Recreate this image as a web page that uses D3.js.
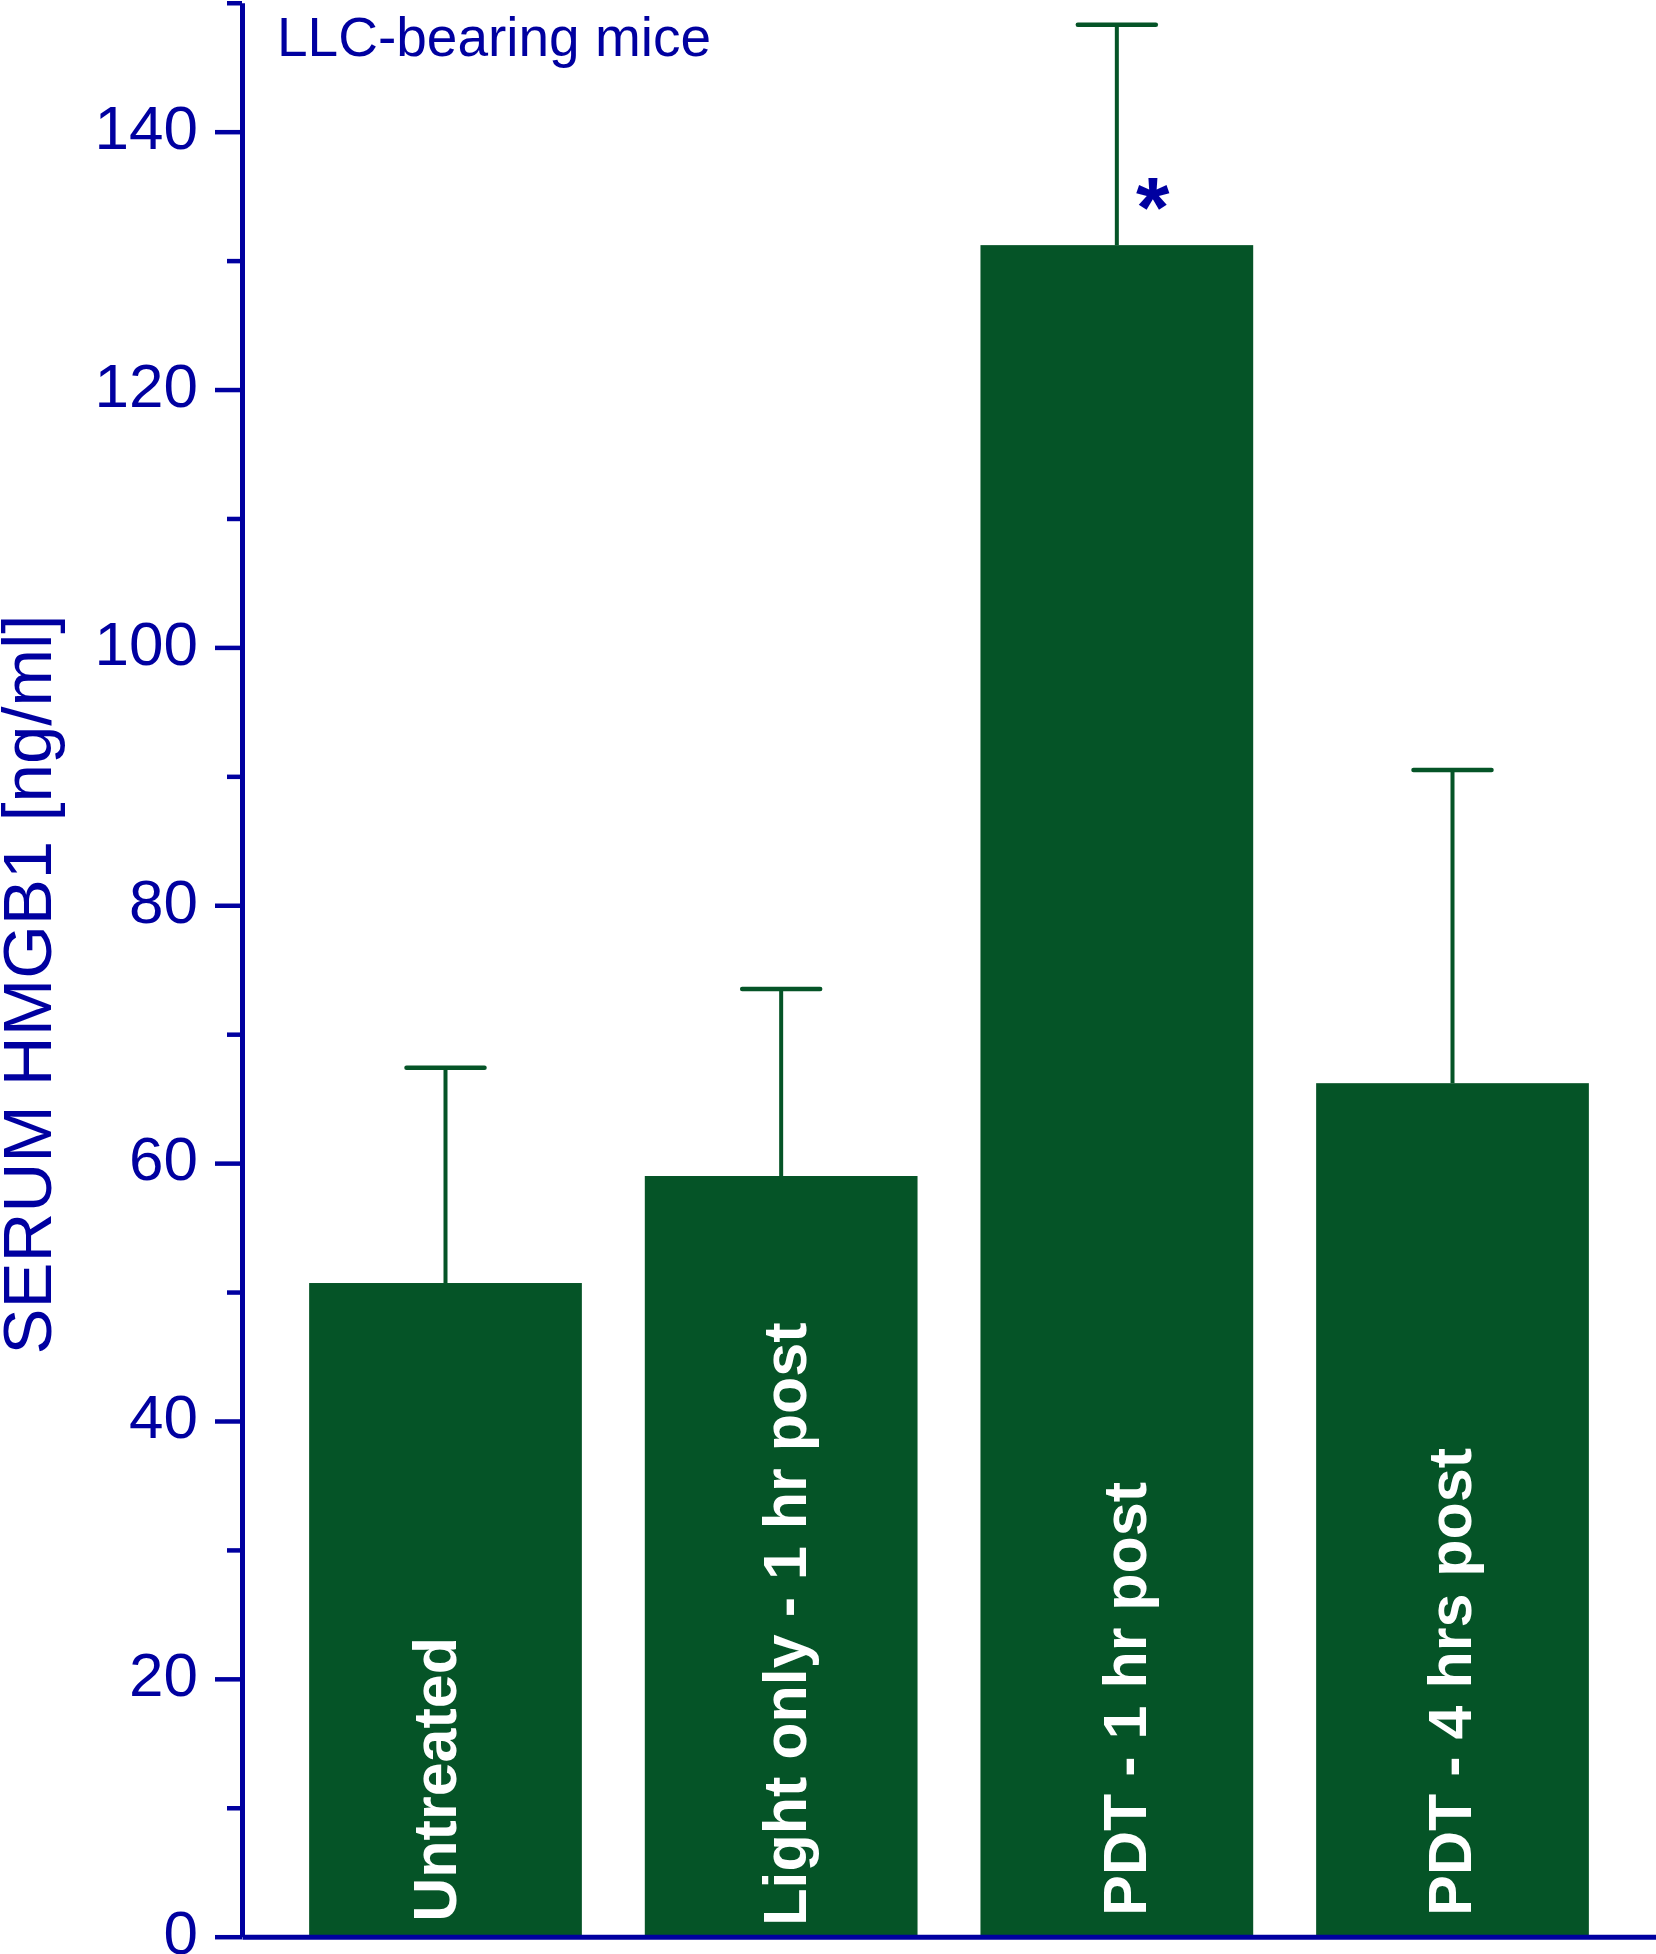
<!DOCTYPE html>
<html>
<head>
<meta charset="utf-8">
<script src="https://cdn.jsdelivr.net/npm/d3@7"></script>
<style>
  html, body { margin: 0; padding: 0; background: #ffffff; }
  svg { display: block; }
  text { font-family: "Liberation Sans", Arial, Helvetica, sans-serif; }
</style>
</head>
<body>
<svg id="chart" width="1656" height="1954"></svg>
<script>
// ---- data ----
const categories = ["Untreated", "Light only - 1 hr post", "PDT - 1 hr post", "PDT - 4 hrs post"];
const means = [50.7, 59.0, 131.2, 66.2];
const errorTops = [67.4, 73.5, 148.3, 90.5];
const significant = [false, false, true, false];
const majorTicks = [0, 20, 40, 60, 80, 100, 120, 140];
const minorTicks = [10, 30, 50, 70, 90, 110, 130, 150];
const titleText = "LLC-bearing mice";
const yLabel = "SERUM HMGB1 [ng/ml]";

// ---- layout (not data) ----
const labelDx = [11, 25, 29.5, 18.5];      // baseline shift from bar centre
const labelLift = [15, 11, 21, 21];        // start of label above the x axis
const blue = "#0000a0";
const green = "#055427";

const svg = d3.select("#chart");
const x0 = 242, x1 = 1656, yBottom = 1936.7, yTop = 2.75;

const y = d3.scaleLinear().domain([0, 150]).range([yBottom, yTop]);
const x = d3.scaleBand().domain(categories).range([x0, x1])
  .paddingInner(0.1875).paddingOuter(0.2);

// bars
svg.append("g").selectAll("rect").data(categories).join("rect")
  .attr("x", d => x(d))
  .attr("width", x.bandwidth())
  .attr("y", (d, i) => y(means[i]))
  .attr("height", (d, i) => y(0) - y(means[i]))
  .attr("fill", green);

// error bars (upper only)
const eb = svg.append("g").attr("stroke", green).attr("fill", "none");
categories.forEach((c, i) => {
  const cx = x(c) + x.bandwidth() / 2;
  eb.append("line").attr("x1", cx).attr("x2", cx)
    .attr("y1", y(means[i])).attr("y2", y(errorTops[i]))
    .attr("stroke-width", 4);
  eb.append("line").attr("x1", cx - 39).attr("x2", cx + 39)
    .attr("y1", y(errorTops[i])).attr("y2", y(errorTops[i]))
    .attr("stroke-width", 4.5).attr("stroke-linecap", "round");
});

// significance marks
categories.forEach((c, i) => {
  if (!significant[i]) return;
  const cx = x(c) + x.bandwidth() / 2;
  svg.append("text")
    .attr("x", cx + 36)
    .attr("y", y(means[i]) - 8)
    .attr("text-anchor", "middle")
    .attr("font-size", 86)
    .attr("font-weight", "bold")
    .attr("fill", blue)
    .text("*");
});

// bar labels (white, rotated, inside bars)
categories.forEach((c, i) => {
  const cx = x(c) + x.bandwidth() / 2;
  svg.append("text")
    .attr("transform", `translate(${cx + labelDx[i]},${yBottom - labelLift[i]}) rotate(-90)`)
    .attr("text-anchor", "start")
    .attr("font-size", 61)
    .attr("font-weight", "bold")
    .attr("fill", "#ffffff")
    .text(c);
});

// y axis: minor ticks
const yMinor = svg.append("g").attr("transform", `translate(${x0},0)`)
  .call(d3.axisLeft(y).tickValues(minorTicks).tickSize(15).tickSizeOuter(0).tickFormat(""));
yMinor.select(".domain").remove();
yMinor.selectAll(".tick line").attr("stroke", blue).attr("stroke-width", 4.5);

// y axis: major ticks + labels
const yMajor = svg.append("g").attr("transform", `translate(${x0},0)`)
  .call(d3.axisLeft(y).tickValues(majorTicks).tickSize(27).tickSizeOuter(0).tickPadding(17));
yMajor.select(".domain").attr("stroke", blue).attr("stroke-width", 5);
yMajor.selectAll(".tick line").attr("stroke", blue).attr("stroke-width", 4.5);
yMajor.selectAll(".tick text")
  .attr("fill", blue)
  .attr("font-size", 62)
  .attr("font-family", "'Liberation Sans', Arial, sans-serif")
  .attr("dy", "0.27em");

// x axis baseline
const xAxis = svg.append("g").attr("transform", `translate(0,${yBottom})`)
  .call(d3.axisBottom(x).tickSize(0).tickSizeOuter(0).tickFormat(""));
xAxis.select(".domain").attr("stroke", blue).attr("stroke-width", 5);
xAxis.selectAll(".tick").remove();

// y axis title
svg.append("text")
  .attr("transform", `translate(51,${(619 + 1350) / 2}) rotate(-90)`)
  .attr("text-anchor", "middle")
  .attr("font-size", 69)
  .attr("fill", blue)
  .text(yLabel);

// panel title
svg.append("text")
  .attr("x", 277)
  .attr("y", 56)
  .attr("font-size", 55)
  .attr("fill", blue)
  .text(titleText);
</script>
</body>
</html>
